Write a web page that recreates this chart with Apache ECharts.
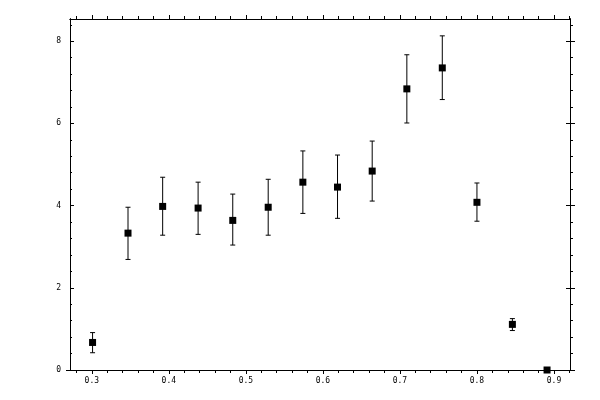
<!DOCTYPE html>
<html>
<head>
<meta charset="utf-8">
<script src="https://cdn.jsdelivr.net/npm/echarts@6/dist/echarts.min.js"></script>
<style>
  html, body { margin: 0; padding: 0; background: #fff; }
  #main { width: 600px; height: 400px; }
</style>
</head>
<body>
<div id="main"></div>
<script>
// measured points (x, value) and error bar ends
var xs = [0.301, 0.347, 0.392, 0.438, 0.483, 0.529, 0.574, 0.619, 0.664, 0.709, 0.755, 0.800, 0.846, 0.891]
var ys = [0.67, 3.33, 3.98, 3.94, 3.64, 3.96, 4.57, 4.45, 4.84, 6.84, 7.35, 4.08, 1.11, 0]
var hi = [0.91, 3.96, 4.69, 4.57, 4.28, 4.64, 5.33, 5.23, 5.57, 7.67, 8.13, 4.55, 1.25, 0]
var lo = [0.42, 2.69, 3.28, 3.30, 3.04, 3.28, 3.81, 3.69, 4.11, 6.01, 6.58, 3.62, 0.96, 0]

// tick positions
var xMajor = [0.3, 0.4, 0.5, 0.6, 0.7, 0.8, 0.9]
var xMinor = [0.28, 0.32, 0.34, 0.36, 0.38, 0.42, 0.44, 0.46, 0.48, 0.52, 0.54, 0.56, 0.58,
    0.62, 0.64, 0.66, 0.68, 0.72, 0.74, 0.76, 0.78, 0.82, 0.84, 0.86, 0.88, 0.92]
var yMajor = [0, 2, 4, 6, 8]
var yMinor = [0.4, 0.8, 1.2, 1.6, 2.4, 2.8, 3.2, 3.6, 4.4, 4.8, 5.2, 5.6, 6.4, 6.8, 7.2, 7.6, 8.4]

var xMin = 0.2717, xMax = 0.9208
var yMin = 0, yMax = 8.54

var chart = echarts.init(document.getElementById('main'))

var lineStyle = { color: '#000', width: 1 }
var labelFont = { color: '#000', fontFamily: 'DejaVu Sans Mono', fontSize: 8 }

function xAxisOf(pos, ticks, len, labels) {
    return {
        type: 'value', position: pos, min: xMin, max: xMax,
        axisLine: { show: true, onZero: false, lineStyle: lineStyle },
        axisTick: { show: true, customValues: ticks, length: len, inside: false, lineStyle: lineStyle },
        axisLabel: labels ? Object.assign({
            show: true, customValues: xMajor, margin: 7,
            formatter: function (v) { return v.toFixed(1) }
        }, labelFont) : { show: false },
        splitLine: { show: false }
    }
}

function yAxisOf(pos, ticks, len, inside, labels) {
    return {
        type: 'value', position: pos, min: yMin, max: yMax,
        axisLine: { show: true, onZero: false, lineStyle: lineStyle },
        axisTick: { show: true, customValues: ticks, length: len, inside: inside, lineStyle: lineStyle },
        axisLabel: labels ? Object.assign({
            show: true, customValues: yMajor, margin: 9,
            formatter: function (v) { return String(v) }
        }, labelFont) : { show: false },
        splitLine: { show: false }
    }
}

var pts = []
var bars = []
for (var i = 0; i < xs.length; i++) {
    pts.push([xs[i], ys[i]])
    bars.push([xs[i], lo[i], hi[i]])
}

chart.setOption({
    animation: false,
    backgroundColor: '#fff',
    grid: { left: 70, right: 30, top: 19, bottom: 30 },
    xAxis: [
        xAxisOf('bottom', xMajor, 4, true),
        xAxisOf('bottom', xMinor, 3, false),
        xAxisOf('top', xMajor, 4, false),
        xAxisOf('top', xMinor, 3, false)
    ],
    yAxis: [
        yAxisOf('left', yMajor, 4, true, true),
        yAxisOf('left', yMinor, 2, true, false),
        yAxisOf('left', [0], 4, false, false),
        yAxisOf('right', yMajor, 5, false, false),
        yAxisOf('right', yMajor, 4, true, false),
        yAxisOf('right', yMinor, 3, false, false)
    ],
    series: [{
        type: 'custom',
        xAxisIndex: 0,
        yAxisIndex: 0,
        data: bars,
        clip: false,
        renderItem: function (params, api) {
            var x = api.value(0)
            if (api.value(2) - api.value(1) <= 0) return
            var top = api.coord([x, api.value(2)])
            var bot = api.coord([x, api.value(1)])
            var w = 2.5
            var st = { stroke: '#000', lineWidth: 1 }
            return {
                type: 'group',
                children: [
                    { type: 'line', shape: { x1: top[0], y1: top[1], x2: bot[0], y2: bot[1] }, style: st },
                    { type: 'line', shape: { x1: top[0] - w, y1: top[1], x2: top[0] + w, y2: top[1] }, style: st },
                    { type: 'line', shape: { x1: bot[0] - w, y1: bot[1], x2: bot[0] + w, y2: bot[1] }, style: st }
                ]
            }
        }
    }, {
        type: 'scatter',
        xAxisIndex: 0,
        yAxisIndex: 0,
        data: pts,
        clip: false,
        symbol: 'rect',
        symbolSize: 7,
        itemStyle: { color: '#000', opacity: 1 }
    }]
})
</script>
</body>
</html>
